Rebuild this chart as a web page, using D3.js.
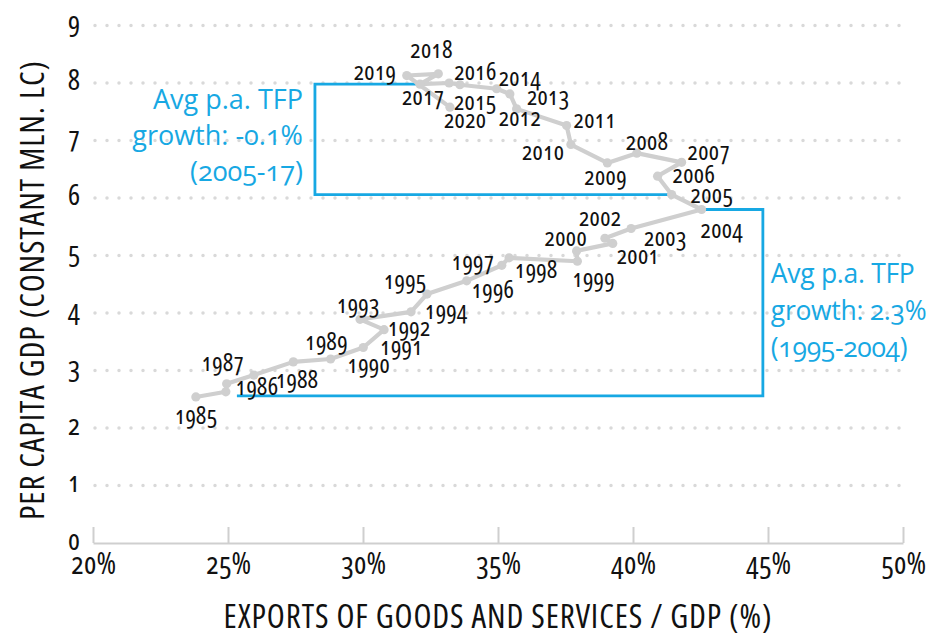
<!DOCTYPE html>
<html><head><meta charset="utf-8">
<script src="https://cdn.jsdelivr.net/npm/d3@7"></script>
<style>
body{margin:0;background:#fff}
svg text{font-family:"Open Sans","Liberation Sans Narrow","DejaVu Sans Condensed",sans-serif;font-stretch:75%;font-variant-numeric:oldstyle-nums;}
</style></head><body><svg id="c" width="932" height="637"></svg>
<script>
// ---- data ----
const years = [1985,1986,1987,1988,1989,1990,1991,1992,1993,1994,1995,1996,1997,1998,1999,2000,2001,2002,2003,2004,2005,2006,2007,2008,2009,2010,2011,2012,2013,2014,2015,2016,2017,2018,2019,2020];
const exportsPct = [23.81,24.92,24.95,25.96,27.42,28.80,30.01,30.78,29.89,31.78,32.37,33.84,35.14,35.41,37.94,37.91,39.25,38.96,39.93,42.54,41.43,40.91,41.80,40.14,39.05,37.70,37.54,35.69,35.44,34.95,33.59,33.19,32.11,32.79,31.62,33.22];
const gdpPerCapita = [2.54,2.63,2.77,2.92,3.15,3.20,3.40,3.71,3.89,4.02,4.33,4.56,4.83,4.96,4.90,5.08,5.21,5.30,5.47,5.80,6.06,6.38,6.62,6.78,6.61,6.93,7.26,7.55,7.81,7.90,7.97,8.00,7.98,8.16,8.13,7.58];
const xTicks = [20,25,30,35,40,45,50];
const yTicks = [0,1,2,3,4,5,6,7,8,9];
const bracketLateX = [32.11,28.22,28.22,41.43];
const bracketLateY = [7.98,7.98,6.06,6.06];
const bracketEarlyX = [42.54,44.81,44.81,25.33];
const bracketEarlyY = [5.80,5.80,2.56,2.56];
const annoLate = ["Avg p.a. TFP","growth: -0.1%","(2005-17)"];
const annoEarly = ["Avg p.a. TFP","growth: 2.3%","(1995-2004)"];
const xTitle = "EXPORTS OF GOODS AND SERVICES / GDP (%)";
const yTitle = "PER CAPITA GDP (CONSTANT MLN. LC)";

// ---- label placement (px offsets from point) ----
const labelDx = [0,31,-4,43,33,38,38,25,-2,35,-22,26,-29,27,16,-11,25,-5,34,20,40,36,27,10,-2,-28,28,3,38,23,15,26,3,-7,-32,15];
const labelDy = [20,-4,-20,5,-19,6,0,-1,-14,0,-13,10,-3,13,18,-12,13,-20,10,21,1,-1,-10,-11,15,8,-5,10,4,-10,18,-11,13,-23,-3,13];

// ---- layout ----
const BLUE = "#17a8e3", GREY = "#cfcfcf", GRID = "#d9d9d9", INK = "#111";
const x = d3.scaleLinear().domain([20,50]).range([93,903]);
const y = d3.scaleLinear().domain([0,9]).range([543,25.5]);
const svg = d3.select("#c");

// grid
svg.append("g").selectAll("line").data(yTicks.filter(d=>d>0)).join("line")
  .attr("x1",x(20)+2).attr("x2",x(50)).attr("y1",d=>y(d)).attr("y2",d=>y(d))
  .attr("stroke",GRID).attr("stroke-width",3.5).attr("stroke-linecap","round").attr("stroke-dasharray","0 12");

// x axis
const xAxis = d3.axisBottom(x).tickValues(xTicks).tickFormat(d=>d+"%").tickSizeInner(-16).tickSizeOuter(0);
const gx = svg.append("g").attr("transform",`translate(0,${y(0)})`).call(xAxis);
gx.select(".domain").attr("stroke",GREY).attr("stroke-width",2);
gx.selectAll(".tick line").attr("stroke",GREY).attr("stroke-width",2);
gx.selectAll(".tick text").attr("font-size",30).attr("fill",INK).attr("dy",0).attr("y",31);

// y axis labels
const yAxis = d3.axisLeft(y).tickValues(yTicks).tickSize(0).tickPadding(13);
const gy = svg.append("g").attr("transform",`translate(${x(20)},0)`).call(yAxis);
gy.select(".domain").remove();
gy.selectAll(".tick text").attr("font-size",29).attr("fill",INK).attr("dy","0.22em");

// titles
svg.append("text").attr("x",(x(20)+x(50))/2).attr("y",628).attr("text-anchor","middle")
  .attr("font-size",33).attr("letter-spacing",0.9).attr("fill",INK).text(xTitle);
svg.append("text").attr("transform",`translate(44,290) rotate(-90)`).attr("text-anchor","middle")
  .attr("font-size",33).attr("letter-spacing",0.9).attr("fill",INK).text(yTitle);

// brackets
const lineGen = d3.line().x(d=>x(d[0])).y(d=>y(d[1]));
[[bracketLateX,bracketLateY],[bracketEarlyX,bracketEarlyY]].forEach(([bx,by])=>{
  svg.append("path").datum(bx.map((v,i)=>[v,by[i]])).attr("d",lineGen)
    .attr("fill","none").attr("stroke",BLUE).attr("stroke-width",2.8);
});

// annotation texts
const tLate = svg.append("text").attr("text-anchor","end").attr("font-size",27).attr("fill",BLUE).style("font-stretch","96%");
annoLate.forEach((s,i)=>tLate.append("tspan").attr("x",x(bracketLateX[1])-12).attr("y",y(bracketLateY[0])+25+i*36).text(s));
const tEarly = svg.append("text").attr("text-anchor","start").attr("font-size",26.5).attr("letter-spacing",-0.3).attr("fill",BLUE).style("font-stretch","96%");
annoEarly.forEach((s,i)=>tEarly.append("tspan").attr("x",x(bracketEarlyX[1])+8).attr("y",y(bracketEarlyY[0])+73+i*37).text(s));

// series
const pts = years.map((yr,i)=>({yr, ex:exportsPct[i], g:gdpPerCapita[i], dx:labelDx[i], dy:labelDy[i]}));
svg.append("path").datum(pts).attr("d",d3.line().x(d=>x(d.ex)).y(d=>y(d.g)))
  .attr("fill","none").attr("stroke",GREY).attr("stroke-width",4.2).attr("stroke-linejoin","round");
svg.append("g").selectAll("circle").data(pts).join("circle")
  .attr("cx",d=>x(d.ex)).attr("cy",d=>y(d.g)).attr("r",4.6).attr("fill",GREY);
svg.append("g").selectAll("text").data(pts).join("text")
  .attr("x",d=>x(d.ex)+d.dx).attr("y",d=>y(d.g)+d.dy).attr("dy","0.3em")
  .attr("text-anchor","middle").attr("font-size",25).attr("fill",INK).text(d=>d.yr);
</script></body></html>
